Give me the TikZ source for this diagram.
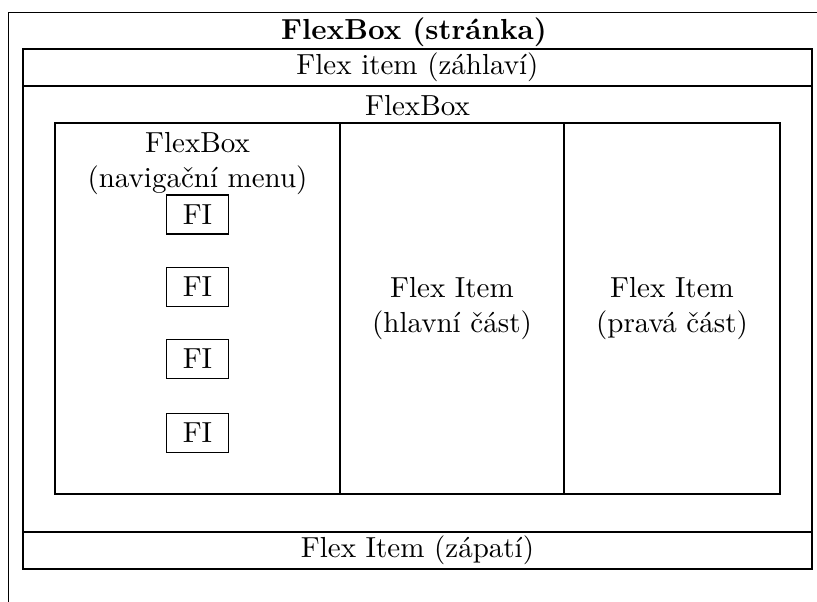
\documentclass[tikz,border=0pt]{standalone}
\usetikzlibrary{positioning}

\begin{document}
\begin{tikzpicture}[
  frame/.style={draw, inner sep=0pt, line width=0.4pt},
  fi/.style={draw, line width=0.4pt, minimum width=0.76cm},
  lbl/.style={align=center}
]
\useasboundingbox (0,0) rectangle (9.903,-7.285);
\clip (0,0) rectangle (9.903,-7.285);
% page frame runs past the right and bottom edge
\node[frame, anchor=north west, minimum width=10.2cm, minimum height=7.6cm] (page) at (0.097,-0.145) {};
\node[font=\bfseries] (title) at (5.018,-0.388) {FlexBox (stránka)};
% header, main flexbox, footer
\node[frame, minimum width=9.563cm, minimum height=0.448cm] (header) at (5.06,-0.818) {Flex item (záhlaví)};
\node[frame, minimum width=9.563cm, minimum height=5.406cm] (main) at (5.06,-3.745) {};
\node[lbl, below=0pt of main.north] (mainlbl) {FlexBox};
\node[frame, minimum width=9.563cm, minimum height=0.449cm] (footer) at (5.06,-6.672) {Flex Item (zápatí)};
% columns
\node[frame, minimum width=3.454cm, minimum height=4.497cm] (nav) at (2.394,-3.7395) {};
\node[frame, minimum width=2.715cm, minimum height=4.497cm, lbl] (content) at (5.4785,-3.7395) {Flex Item\\(hlavní část)};
\node[frame, minimum width=2.619cm, minimum height=4.497cm, lbl] (side) at (8.1455,-3.7395) {Flex Item\\(pravá část)};
\node[lbl, below=0pt of nav.north] (navlbl) {FlexBox\\(navigační menu)};
\foreach \i/\y in {1/-2.6, 2/-3.479, 3/-4.352, 4/-5.248}
  \node[fi] (fi\i) at (2.394,\y) {FI};
\end{tikzpicture}
\end{document}
